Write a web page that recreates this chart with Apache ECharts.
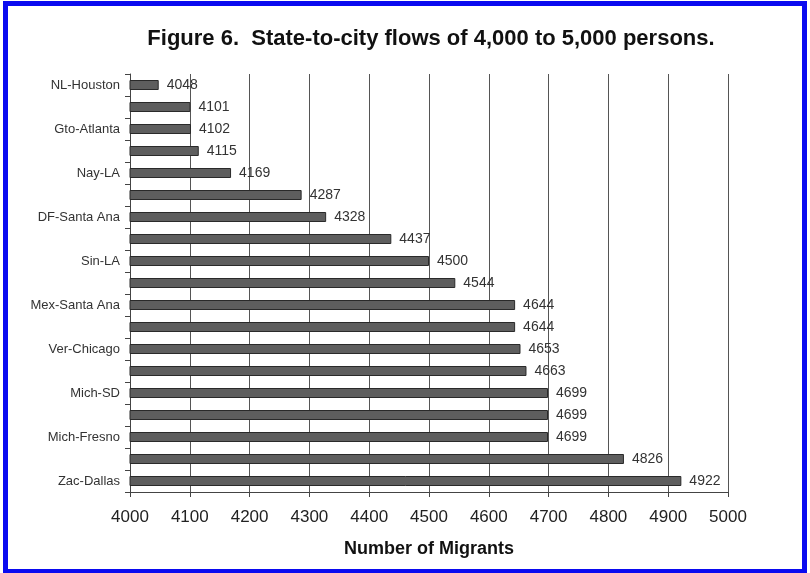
<!DOCTYPE html>
<html>
<head>
<meta charset="utf-8">
<script src="https://cdn.jsdelivr.net/npm/echarts@6/dist/echarts.min.js"></script>
<style>
  html, body { margin: 0; padding: 0; background: #fff; }
  #frame { position: absolute; left: 3px; top: 1px; width: 804px; height: 572px; box-sizing: border-box; border: 5px solid #0a0af0; border-bottom-width: 4px; }
  #chart { position: absolute; left: 0; top: 0; width: 810px; height: 573px; }
</style>
</head>
<body>
<div id="chart"></div>
<div id="frame"></div>
<script>
// rows from top to bottom; blank names are rows the source leaves unlabeled
const flows = ['NL-Houston', '', 'Gto-Atlanta', '', 'Nay-LA', '', 'DF-Santa Ana', '', 'Sin-LA', '',
  'Mex-Santa Ana', '', 'Ver-Chicago', '', 'Mich-SD', '', 'Mich-Fresno', '', 'Zac-Dallas'];
const migrants = [4048, 4101, 4102, 4115, 4169, 4287, 4328, 4437, 4500, 4544,
  4644, 4644, 4653, 4663, 4699, 4699, 4699, 4826, 4922];
const xMin = 4000, xMax = 5000, xStep = 100;

const chart = echarts.init(document.getElementById('chart'), null, { renderer: 'canvas' });
const font = 'Liberation Sans, Arial, sans-serif';

chart.setOption({
  backgroundColor: '#fff',
  animation: false,
  title: {
    text: 'Figure 6.  State-to-city flows of 4,000 to 5,000 persons.',
    left: 426, top: 23, textAlign: 'center',
    textStyle: { fontFamily: font, fontSize: 22, fontWeight: 'bold', color: '#111' }
  },
  grid: { left: 130, right: 82, top: 74, bottom: 81 },
  xAxis: {
    type: 'value', min: xMin, max: xMax, interval: xStep,
    name: 'Number of Migrants', nameLocation: 'middle', nameGap: 48,
    nameTextStyle: { fontFamily: font, fontSize: 18, fontWeight: 'bold', color: '#111' },
    axisLine: { show: true, lineStyle: { color: '#444', width: 1 } },
    axisTick: { show: true, length: 5, lineStyle: { color: '#444' } },
    axisLabel: { fontFamily: font, fontSize: 17, color: '#222', margin: 17, formatter: v => String(v) },
    splitLine: { show: true, lineStyle: { color: '#555', width: 1 } }
  },
  yAxis: {
    type: 'category', data: flows, inverse: true,
    axisLine: { show: true, lineStyle: { color: '#444', width: 1 } },
    axisTick: { show: true, length: 5, interval: 0, lineStyle: { color: '#444' } },
    axisLabel: { fontFamily: font, fontSize: 13, color: '#333', margin: 10, interval: 0 },
    splitLine: { show: false }
  },
  series: [{
    type: 'bar',
    data: migrants,
    barWidth: 10,
    itemStyle: { color: '#5e5e5e', borderColor: '#2a2a2a', borderWidth: 1 },
    label: {
      show: true, position: 'right', distance: 8,
      fontFamily: font, fontSize: 14, color: '#333'
    }
  }]
});
</script>
</body>
</html>
